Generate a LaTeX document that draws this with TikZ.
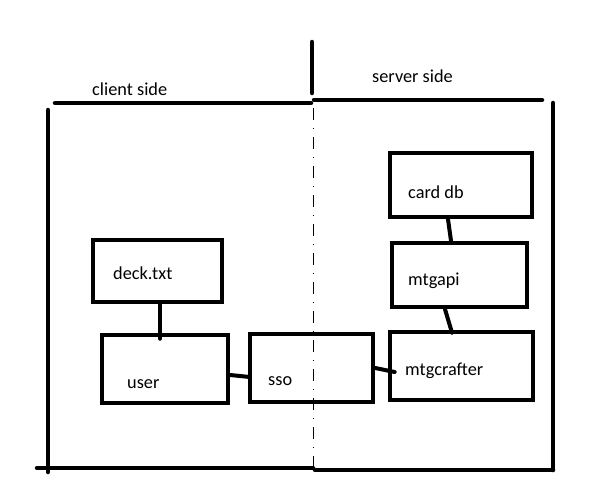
\documentclass[tikz,border=0pt]{standalone}
\usepackage{fontspec}
\setmainfont{Carlito}
\usepackage{tikz}
\tikzstyle{modul} = [rectangle, draw=black, line width=4.5pt, inner sep=0pt]
\tikzstyle{tekst} = [anchor=base west, inner sep=0pt, font=\fontsize{18.3}{21}\selectfont]
\tikzstyle{kobling} = [line width=4pt, line cap=round]
\tikzstyle{ramme} = [line width=4.5pt, line cap=round]
\tikzstyle{skille} = [line width=1pt, dash pattern=on 12pt off 8pt on 1pt off 8pt]

\begin{document}
\begin{tikzpicture}[x=1pt, y=-1pt]
		\useasboundingbox (0,0) rectangle (613,501);
		
	    \node (carddb) [modul, minimum width=142pt, minimum height=64pt] at (461,185) {};
	    \node (mtgapi) [modul, minimum width=135pt, minimum height=64pt] at (459.5,275) {};
	    \node (mtgcrafter) [modul, minimum width=143pt, minimum height=68pt] at (461.5,366) {};
	    \node (sso) [modul, minimum width=123pt, minimum height=68pt] at (311.5,368) {};
	    \node (deck) [modul, minimum width=129pt, minimum height=62pt] at (157.5,271) {};
	    \node (user) [modul, minimum width=126pt, minimum height=68pt] at (165,369) {};
	    
	    \node (t-client) [tekst] at (92,95) {client side};
	    \node (t-server) [tekst] at (372,82) {server side};
	    \node (t-carddb) [tekst] at (408,198) {card db};
	    \node (t-mtgapi) [tekst] at (408,285) {mtgapi};
	    \node (t-mtgcrafter) [tekst] at (405,375) {mtgcrafter};
	    \node (t-sso) [tekst] at (268,385) {sso};
	    \node (t-deck) [tekst] at (113,279) {deck.txt};
	    \node (t-user) [tekst] at (127,388) {user};
	    
	    % rammen rundt klient og tjener
	    \draw [ramme] (312,42) -- (312,93);
	    \draw [ramme] (55,103) -- (311,103);
	    \draw [ramme] (314,100) -- (542,100);
	    \draw [ramme] (48,110) -- (48,472);
	    \draw [ramme] (37,468) -- (313,468);
	    \draw [ramme] (315,470) -- (553,470);
	    \draw [ramme] (553,103) -- (553,470);
	    \draw [skille] (313,108) -- (313,468);
	    
        \draw [kobling] ([xshift=2.5pt]deck.south) -- ([xshift=-5pt, yshift=-6pt]user.north);
        \draw [kobling] ([yshift=-6pt]user.east) -- ([xshift=2pt, yshift=-9pt]sso.west);
        \draw [kobling] (sso.east) -- ([xshift=7pt, yshift=-6pt]mtgcrafter.west);
        \draw [kobling] ([xshift=-13pt]carddb.south) -- ([xshift=-8.5pt]mtgapi.north);
        \draw [kobling] ([xshift=-14.5pt]mtgapi.south) -- ([xshift=-9.5pt, yshift=-3pt]mtgcrafter.north);
		\end{tikzpicture}
\end{document}
